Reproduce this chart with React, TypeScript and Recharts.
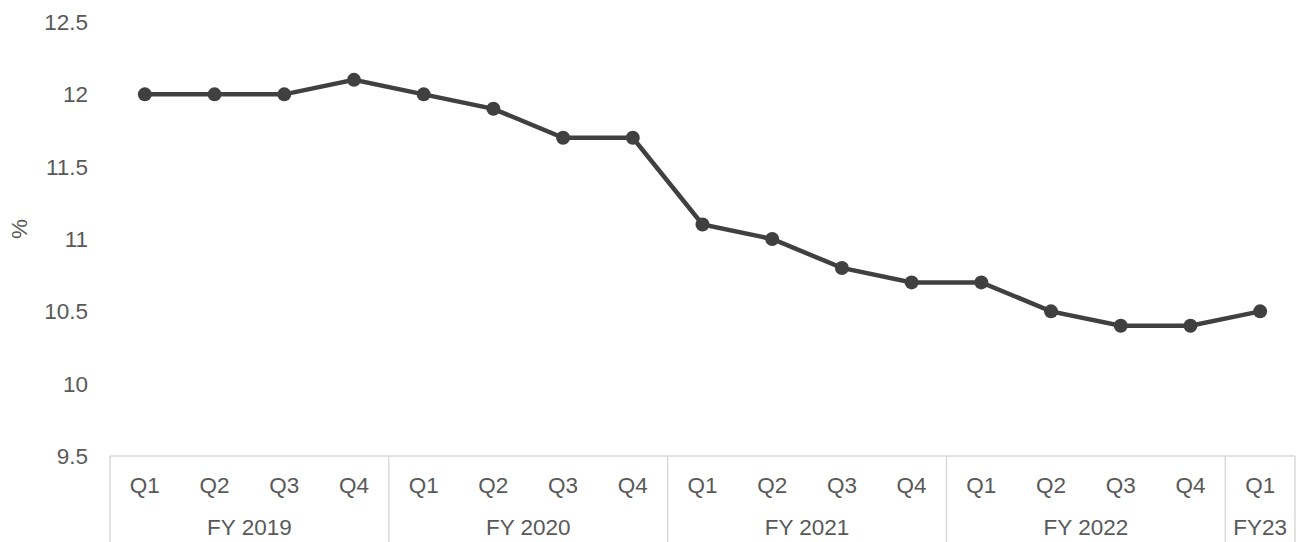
import React from 'react';
import { LineChart, Line, XAxis, YAxis } from 'recharts';

const quarters = ['Q1', 'Q2', 'Q3', 'Q4', 'Q1', 'Q2', 'Q3', 'Q4', 'Q1', 'Q2', 'Q3', 'Q4', 'Q1', 'Q2', 'Q3', 'Q4', 'Q1'];
const rates = [12, 12, 12, 12.1, 12, 11.9, 11.7, 11.7, 11.1, 11.0, 10.8, 10.7, 10.7, 10.5, 10.4, 10.4, 10.5];
const yearNames = ['FY 2019', 'FY 2020', 'FY 2021', 'FY 2022', 'FY23'];
const yearSizes = [4, 4, 4, 4, 1];
const yTicks = [9.5, 10, 10.5, 11, 11.5, 12, 12.5];

const data = quarters.map((q, i) => ({ q, rate: rates[i] }));

// index of the first quarter in each fiscal year
const yearStarts: number[] = [];
yearSizes.reduce((acc, n) => {
  yearStarts.push(acc);
  return acc + n;
}, 0);

const WIDTH = 1300;
const HEIGHT = 542;
const MARGIN = { top: 22, right: 5, bottom: 0, left: 0 };
const Y_WIDTH = 110;
const X_HEIGHT = 86;
const BAND = (WIDTH - MARGIN.right - Y_WIDTH) / quarters.length;

const TEXT = '#595959';
const RULE = '#d9d9d9';
const FONT = 'Liberation Sans, Arial, sans-serif';

function QuarterTick(props: any) {
  const { x, y, payload } = props;
  const i: number = payload.index ?? props.index;
  const g = yearStarts.indexOf(i);
  const last = i === quarters.length - 1;
  return (
    <g>
      <text x={x} y={y + 29} textAnchor="middle" dominantBaseline="central" fill={TEXT} fontSize={22.5} fontFamily={FONT}>
        {payload.value}
      </text>
      {g >= 0 && (
        <>
          <line x1={x - BAND / 2} x2={x - BAND / 2} y1={y} y2={y + X_HEIGHT} stroke={RULE} strokeWidth={1.5} />
          <text
            x={x + ((yearSizes[g] - 1) * BAND) / 2}
            y={y + 71}
            textAnchor="middle"
            dominantBaseline="central"
            fill={TEXT}
            fontSize={22.5}
            fontFamily={FONT}
          >
            {yearNames[g]}
          </text>
        </>
      )}
      {last && <line x1={x + BAND / 2} x2={x + BAND / 2} y1={y} y2={y + X_HEIGHT} stroke={RULE} strokeWidth={1.5} />}
    </g>
  );
}

export default function App() {
  return (
    <div style={{ position: 'absolute', left: 0, top: 0, background: '#fff' }}>
      <LineChart width={WIDTH} height={HEIGHT} data={data} margin={MARGIN}>
        <XAxis
          dataKey="q"
          padding={{ left: BAND / 2, right: BAND / 2 }}
          height={X_HEIGHT}
          interval={0}
          tickLine={false}
          tickSize={0}
          tickMargin={0}
          axisLine={{ stroke: RULE, strokeWidth: 1.5 }}
          tick={<QuarterTick />}
        />
        <YAxis
          width={Y_WIDTH}
          domain={[9.5, 12.5]}
          ticks={yTicks}
          axisLine={false}
          tickLine={false}
          tickSize={0}
          tickMargin={22}
          tick={{ fill: TEXT, fontSize: 22.5, fontFamily: FONT }}
          label={{ value: '%', angle: -90, position: 'insideLeft', offset: 19, fill: TEXT, fontSize: 22.5, fontFamily: FONT }}
        />
        <Line
          dataKey="rate"
          stroke="#404040"
          strokeWidth={4.5}
          dot={{ r: 7, fill: '#404040', stroke: 'none' }}
          isAnimationActive={false}
        />
      </LineChart>
    </div>
  );
}
